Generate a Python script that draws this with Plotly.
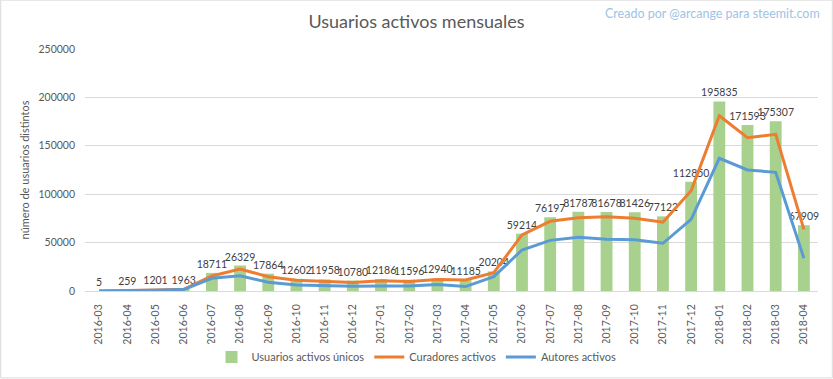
import plotly.graph_objects as go

months = ["2016-03","2016-04","2016-05","2016-06","2016-07","2016-08","2016-09","2016-10","2016-11","2016-12",
          "2017-01","2017-02","2017-03","2017-04","2017-05","2017-06","2017-07","2017-08","2017-09","2017-10",
          "2017-11","2017-12","2018-01","2018-02","2018-03","2018-04"]
unicos = [5, 259, 1201, 1963, 18711, 26329, 17864, 12602, 11958, 10780,
          12186, 11596, 12940, 11185, 20204, 59214, 76197, 81787, 81678, 81426,
          77122, 112850, 195835, 171593, 175307, 67909]
curadores = [3, 200, 1000, 1800, 15500, 22700, 14800, 11200, 9600, 8700,
             10600, 9700, 12000, 11300, 18900, 57900, 72000, 75700, 76800, 75100,
             71000, 103600, 181100, 158400, 161800, 63700]
autores = [2, 100, 800, 1500, 13100, 15800, 9000, 6100, 5200, 5000,
           5100, 5200, 6800, 4600, 14800, 42400, 52300, 55500, 53400, 53000,
           49300, 74000, 137100, 125000, 122600, 33800]

FONT = "Lato"
GREY = "#595959"

fig = go.Figure()
fig.add_trace(go.Bar(
    x=months, y=unicos, name="Usuarios activos únicos",
    marker=dict(color="#A9D18E", line=dict(width=0)),
    text=[str(v) for v in unicos], textposition="outside",
    textfont=dict(family=FONT, size=10.5, color="#404040"),
    constraintext="none", cliponaxis=False,
))
fig.add_trace(go.Scatter(
    x=months, y=curadores, name="Curadores activos", mode="lines",
    line=dict(color="#ED7D31", width=3),
))
fig.add_trace(go.Scatter(
    x=months, y=autores, name="Autores activos", mode="lines",
    line=dict(color="#5B9BD5", width=3),
))

fig.update_layout(
    width=833, height=379,
    margin=dict(l=85, r=15, t=49, b=88, autoexpand=False),
    paper_bgcolor="white", plot_bgcolor="white",
    font=dict(family=FONT, color=GREY, size=11),
    bargap=0.58,
    title=dict(text="Usuarios activos mensuales", x=0.5, xref="container", xanchor="center",
               y=1 - 22 / 379, yref="container", yanchor="middle",
               font=dict(family=FONT, size=18, color=GREY)),
    showlegend=True,
    legend=dict(orientation="h", x=0.5, xref="container", xanchor="center",
                y=1 - 357 / 379, yref="container", yanchor="middle",
                font=dict(family=FONT, size=11, color=GREY), traceorder="normal",
                itemwidth=30, tracegroupgap=0),
    xaxis=dict(type="category", tickangle=-90, showgrid=False, zeroline=False,
               showline=True, linecolor="#d9d9d9", ticks="", automargin=False,
               ticklabelstandoff=8,
               tickfont=dict(family=FONT, size=10.5, color=GREY)),
    yaxis=dict(range=[0, 250000], dtick=50000, tick0=0, tickformat="d",
               showgrid=True, gridcolor="#d9d9d9", automargin=False,
               zeroline=False, showline=False, ticks="", ticklabelstandoff=9,
               tickfont=dict(family=FONT, size=10.5, color=GREY),
               title=dict(text="número de usuarios distintos", standoff=6,
                          font=dict(family=FONT, size=11, color=GREY))),
    annotations=[dict(text="Creado por @arcange para steemit.com", xref="paper", yref="paper",
                      x=1.0055, y=1.145, xanchor="right", yanchor="middle", showarrow=False,
                      font=dict(family=FONT, size=12.5, color="#9DC3E6"))],
    shapes=[dict(type="rect", xref="paper", yref="paper",
                 x0=-0.115, x1=1.0195, y0=-0.359, y1=1.202,
                 line=dict(color="#d9d9d9", width=1), fillcolor="rgba(0,0,0,0)", layer="below")],
)

fig.write_html("out.html", config={"displayModeBar": False},
               post_script="document.body.style.margin='0';document.body.style.padding='0';")
